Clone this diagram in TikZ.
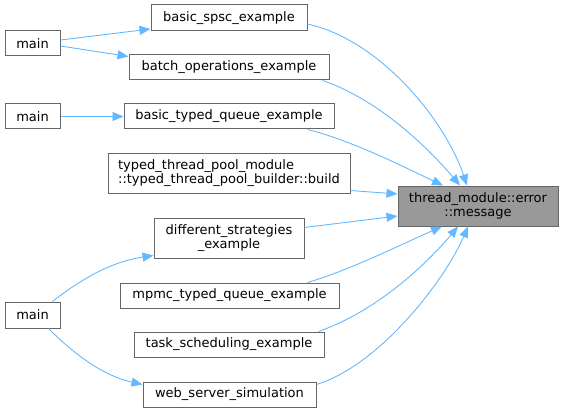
\documentclass[tikz,border=0pt]{standalone}
\usepackage{fontspec}
\setmainfont{DejaVu Sans}
\usetikzlibrary{arrows.meta,calc}
\definecolor{edgeblue}{HTML}{63B8FF}
\definecolor{boxborder}{HTML}{666666}
\definecolor{tgtfill}{HTML}{999999}
\begin{document}
\begin{tikzpicture}[x=1pt,y=-1pt,
  box/.style={draw=boxborder,fill=white,line width=1pt,inner sep=0pt,
    font=\fontsize{13}{14.5}\selectfont,text=black},
  tgtbox/.style={box,fill=tgtfill},
  edge/.style={draw=edgeblue,line width=0.9pt,-{Triangle[length=11pt,width=9pt]}}]
\useasboundingbox (0,0) rectangle (563,412);
% nodes
\node[box,minimum width=156pt,minimum height=26pt] (spsc) at (229,18) {basic\_spsc\_example};
\node[box,minimum width=55pt,minimum height=25pt] (mainA) at (32.5,43.5) {main};
\node[box,minimum width=200pt,minimum height=25pt] (batch) at (229,67.5) {batch\_operations\_example};
\node[box,minimum width=55pt,minimum height=25pt] (mainB) at (32.5,116.5) {main};
\node[box,minimum width=210pt,minimum height=25pt] (typedq) at (229,116.5) {basic\_typed\_queue\_example};
\node[box,minimum width=242pt,minimum height=40pt,align=left] (ttp) at (229,173) {typed\_thread\_pool\_module\\::typed\_thread\_pool\_builder::build};
\node[box,minimum width=150pt,minimum height=40pt,align=center] (diff) at (229,238) {different\_strategies\\\_example};
\node[box,minimum width=219pt,minimum height=25pt] (mpmc) at (229.5,295.5) {mpmc\_typed\_queue\_example};
\node[box,minimum width=190pt,minimum height=25pt] (task) at (229,344.5) {task\_scheduling\_example};
\node[box,minimum width=173pt,minimum height=25pt] (web) at (229.5,394.5) {web\_server\_simulation};
\node[box,minimum width=55pt,minimum height=26pt] (mainC) at (32.5,315) {main};
\node[tgtbox,minimum width=160pt,minimum height=40pt,align=center] (tgt) at (478,206) {thread\_module::error\\::message};
% left edges
\draw[edge] ($(mainA.east)+(0,-3.5)$) -- ($(spsc.west)+(0,11)$);
\draw[edge] ($(mainA.east)+(0,2.5)$) -- ($(batch.north west)+(0,2)$);
\draw[edge] (mainB.east) -- (typedq.west);
\draw[edge] ($(mainC.north east)+(-8,0)$) .. controls (80,280) and (110,262) .. ($(diff.south west)+(0,-3)$);
\draw[edge] ($(mainC.south east)+(-12,0)$) .. controls (70,350) and (100,375) .. ($(web.north west)+(0,3)$);
% edges to target
\draw[edge] ($(spsc.east)+(0,6)$) .. controls (380,40) and (445,120) .. ($(tgt.north)+(-11,0)$);
\draw[edge] ($(batch.south east)+(-7,0)$) .. controls (380,100) and (430,150) .. ($(tgt.north)+(-18,0)$);
\draw[edge] ($(typedq.south east)+(-27,0)$) .. controls (350,140) and (400,165) .. ($(tgt.north)+(-35,0)$);
\draw[edge] ($(ttp.south east)+(0,-3)$) -- ($(tgt.west)+(0,-12)$);
\draw[edge] ($(diff.north east)+(0,10)$) -- ($(tgt.west)+(0,10)$);
\draw[edge] ($(mpmc.north east)+(-32,0)$) .. controls (350,270) and (400,245) .. ($(tgt.south)+(-36,0)$);
\draw[edge] ($(task.north east)+(-6,0)$) .. controls (380,310) and (430,260) .. ($(tgt.south)+(-20,0)$);
\draw[edge] ($(web.east)+(0,-10)$) .. controls (380,365) and (445,280) .. ($(tgt.south)+(-10,0)$);
\end{tikzpicture}
\end{document}
